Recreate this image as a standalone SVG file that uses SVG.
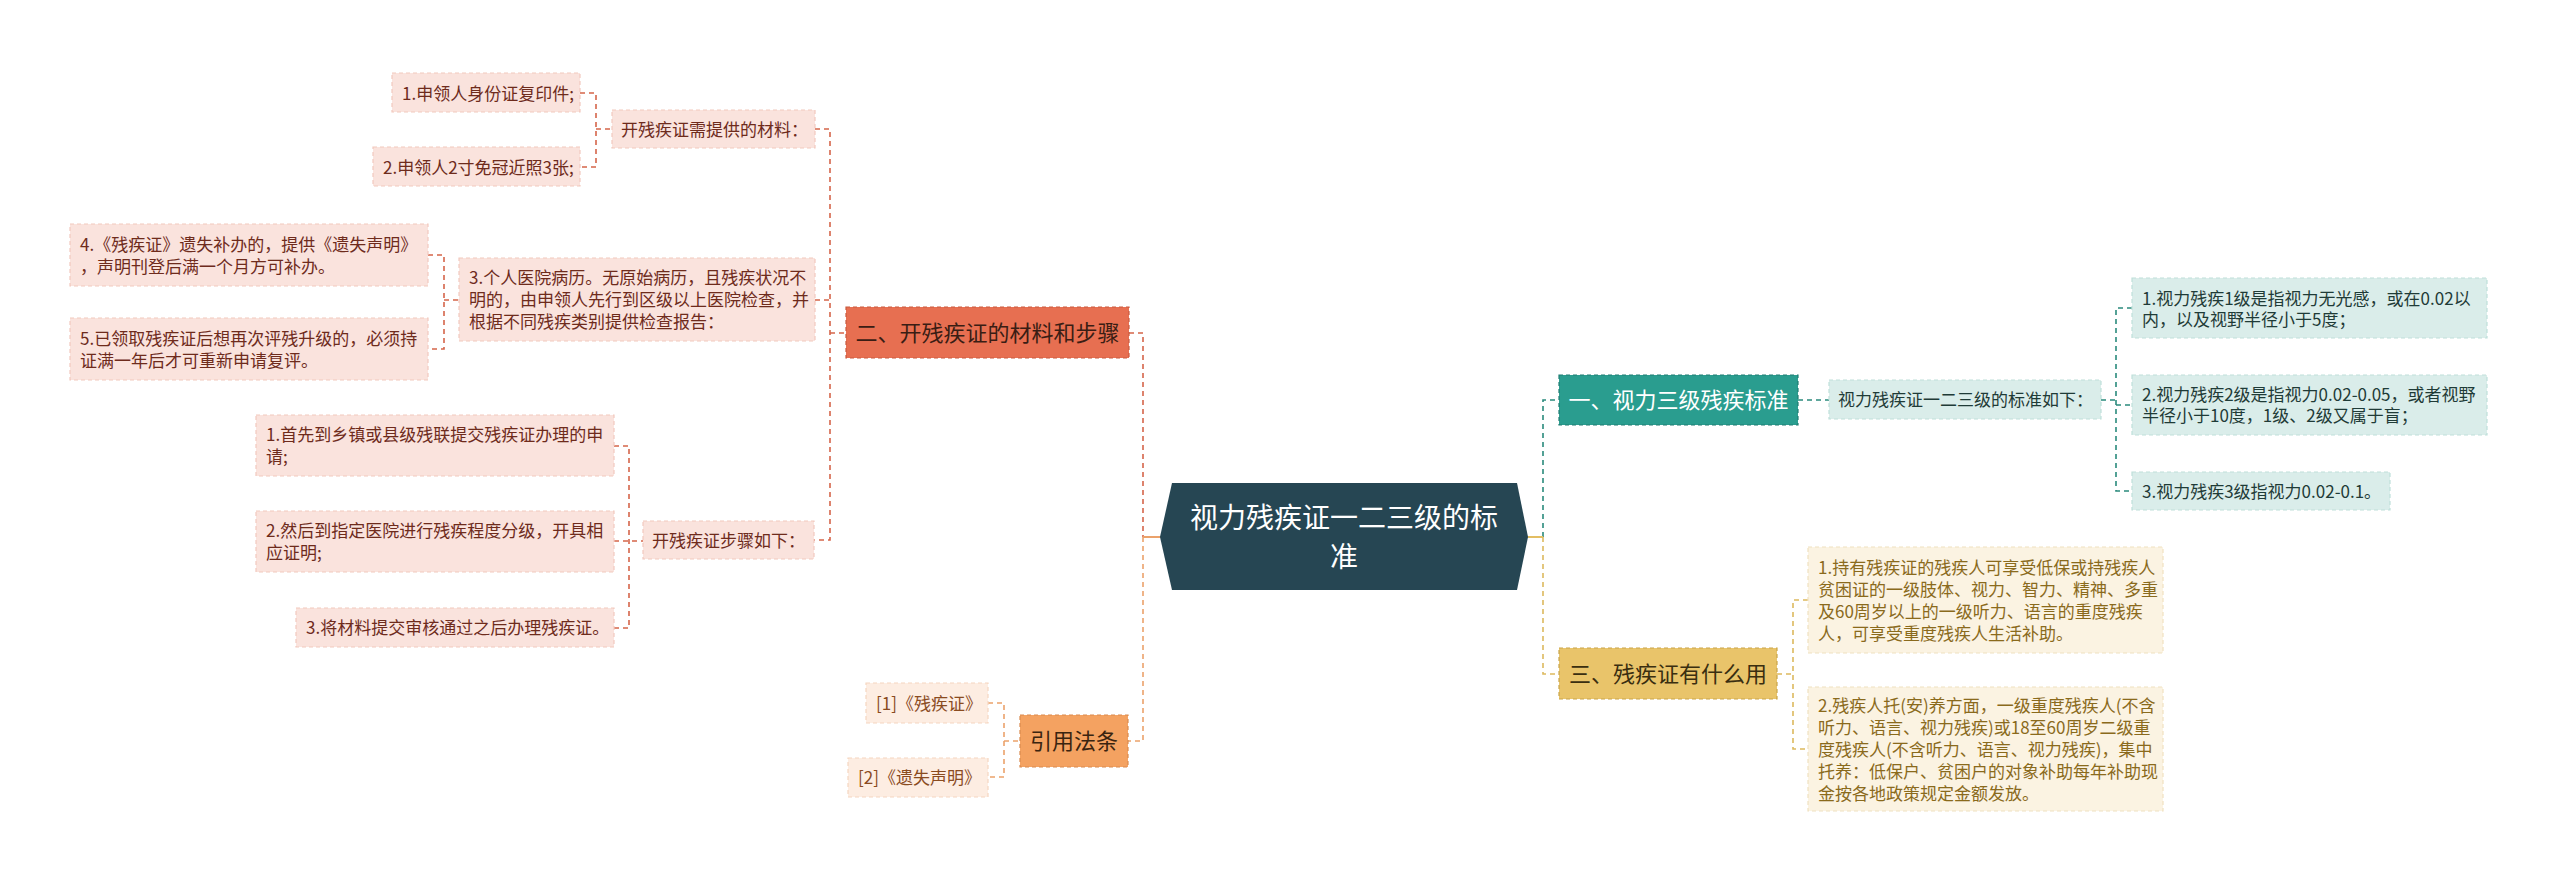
<svg xmlns="http://www.w3.org/2000/svg" width="2560" height="885" viewBox="0 0 2560 885">
<style>
text{font-family:"Noto Sans CJK SC","Noto Sans",sans-serif;}
.t17{font-size:17px;}
.t22{font-size:22px;}
.box{stroke-width:1.2;stroke-dasharray:4 3;}
.rl{fill:#FAE3DD;stroke:#F2C9BE;}
.rlt{fill:#6E2B1C;}
.ol{fill:#FDEDE2;stroke:#F6D6C0;}
.olt{fill:#8A4B1F;}
.tl{fill:#DAEDEA;stroke:#BFDFDA;}
.tlt{fill:#1F3B37;}
.yl{fill:#FBF3E2;stroke:#F0E2C0;}
.ylt{fill:#8A6A1C;}
.c{fill:none;stroke-width:1.6;stroke-dasharray:5 4;}
.cr{stroke:#D5654A;}
.co{stroke:#EBA26B;}
.ct{stroke:#2A8A7C;}
.cy{stroke:#DDB95E;}
</style>
<rect width="2560" height="885" fill="#FFFFFF"/>

<g id="connectors">
  <path class="c cr" d="M580,93 H596 V167 H580 M596,129 H612"/>
  <path class="c cr" d="M815,129 H830 V540 H814 M815,300 H830 M830,333 H846"/>
  <path class="c cr" d="M428,255 H444 V349 H428 M444,300 H459"/>
  <path class="c cr" d="M614,446 H629 V628 H614 M614,541 H643"/>
  <path class="c cr" d="M1129,333 H1143 V537"/>
  <path class="c co" d="M1143,537 V741 H1128"/>
  <path d="M1161,537 H1143" fill="none" stroke="#EBA26B" stroke-width="2"/>
  <path class="c co" d="M988,703 H1004 V777 H988 M1004,741 H1020"/>
  <path class="c ct" d="M1543,537 V400 H1559"/>
  <path class="c ct" d="M1798,400 H1829"/>
  <path class="c ct" d="M2101,400 H2116 M2132,308 H2116 V491 H2132 M2116,405 H2132"/>
  <path d="M1527,537 H1543" fill="none" stroke="#E3BE63" stroke-width="2"/>
  <path class="c cy" d="M1543,537 V674 H1559"/>
  <path class="c cy" d="M1777,674 H1793 M1808,600 H1793 V749 H1808"/>
</g>

<g id="center">
  <polygon points="1160,537 1172,483 1517,483 1528,537 1517,590 1172,590" fill="#264653"/>
  <text x="1344" y="528" font-size="28" fill="#FFFFFF" text-anchor="middle">视力残疾证一二三级的标</text>
  <text x="1344" y="567" font-size="28" fill="#FFFFFF" text-anchor="middle">准</text>
</g>

<g id="n-er">
  <rect x="846" y="307" width="283" height="51" fill="#E76F51" stroke="#C95A3F" class="box"/>
  <text x="987.5" y="341" class="t22" fill="#3A1D14" text-anchor="middle">二、开残疾证的材料和步骤</text>
</g>
<g id="n-cailiao">
  <rect x="612" y="110" width="203" height="38" class="box rl"/>
  <text x="621" y="135.5" class="t17 rlt">开残疾证需提供的材料：</text>
</g>
<g id="n-l1">
  <rect x="392" y="73" width="188" height="39" class="box rl"/>
  <text x="402" y="99.5" class="t17 rlt">1.申领人身份证复印件;</text>
</g>
<g id="n-l2">
  <rect x="373" y="147" width="207" height="39" class="box rl"/>
  <text x="383" y="173.5" class="t17 rlt">2.申领人2寸免冠近照3张;</text>
</g>
<g id="n-l3">
  <rect x="459" y="258" width="356" height="83" class="box rl"/>
  <text x="469" y="284" class="t17 rlt">3.个人医院病历。无原始病历，且残疾状况不</text>
  <text x="469" y="306" class="t17 rlt">明的，由申领人先行到区级以上医院检查，并</text>
  <text x="469" y="328" class="t17 rlt">根据不同残疾类别提供检查报告：</text>
</g>
<g id="n-l4">
  <rect x="70" y="224" width="358" height="62" class="box rl"/>
  <text x="80" y="250.5" class="t17 rlt">4.《残疾证》遗失补办的，提供《遗失声明》</text>
  <text x="80" y="272.5" class="t17 rlt">，声明刊登后满一个月方可补办。</text>
</g>
<g id="n-l5">
  <rect x="70" y="318" width="358" height="62" class="box rl"/>
  <text x="80" y="344.5" class="t17 rlt">5.已领取残疾证后想再次评残升级的，必须持</text>
  <text x="80" y="366.5" class="t17 rlt">证满一年后才可重新申请复评。</text>
</g>
<g id="n-buzhou">
  <rect x="643" y="521" width="171" height="38" class="box rl"/>
  <text x="652" y="546.5" class="t17 rlt">开残疾证步骤如下：</text>
</g>
<g id="n-s1">
  <rect x="256" y="415" width="358" height="61" class="box rl"/>
  <text x="266" y="441" class="t17 rlt">1.首先到乡镇或县级残联提交残疾证办理的申</text>
  <text x="266" y="463" class="t17 rlt">请;</text>
</g>
<g id="n-s2">
  <rect x="256" y="511" width="358" height="61" class="box rl"/>
  <text x="266" y="537" class="t17 rlt">2.然后到指定医院进行残疾程度分级，开具相</text>
  <text x="266" y="559" class="t17 rlt">应证明;</text>
</g>
<g id="n-s3">
  <rect x="296" y="608" width="318" height="39" class="box rl"/>
  <text x="306" y="634" class="t17 rlt">3.将材料提交审核通过之后办理残疾证。</text>
</g>

<g id="n-yinyong">
  <rect x="1020" y="715" width="108" height="52" fill="#F4A261" stroke="#D98A4E" class="box"/>
  <text x="1074" y="749" class="t22" fill="#3A2410" text-anchor="middle">引用法条</text>
</g>
<g id="n-ref1">
  <rect x="866" y="683" width="122" height="40" class="box ol"/>
  <text x="876" y="709.5" class="t17 olt">[1]《残疾证》</text>
</g>
<g id="n-ref2">
  <rect x="848" y="758" width="140" height="39" class="box ol"/>
  <text x="858" y="784" class="t17 olt">[2]《遗失声明》</text>
</g>

<g id="n-yi">
  <rect x="1559" y="375" width="239" height="50" fill="#2A9D8F" stroke="#1F7D72" class="box"/>
  <text x="1678.5" y="408" class="t22" fill="#FFFFFF" text-anchor="middle">一、视力三级残疾标准</text>
</g>
<g id="n-biaozhun">
  <rect x="1829" y="380" width="272" height="39" class="box tl"/>
  <text x="1838" y="406" class="t17 tlt">视力残疾证一二三级的标准如下：</text>
</g>
<g id="n-t1">
  <rect x="2132" y="278" width="355" height="60" class="box tl"/>
  <text x="2142" y="305" class="t17 tlt">1.视力残疾1级是指视力无光感，或在0.02以</text>
  <text x="2142" y="326" class="t17 tlt">内，以及视野半径小于5度；</text>
</g>
<g id="n-t2">
  <rect x="2132" y="375" width="355" height="60" class="box tl"/>
  <text x="2142" y="401" class="t17 tlt">2.视力残疾2级是指视力0.02-0.05，或者视野</text>
  <text x="2142" y="422" class="t17 tlt">半径小于10度，1级、2级又属于盲；</text>
</g>
<g id="n-t3">
  <rect x="2132" y="472" width="258" height="38" class="box tl"/>
  <text x="2142" y="497.5" class="t17 tlt">3.视力残疾3级指视力0.02-0.1。</text>
</g>

<g id="n-san">
  <rect x="1559" y="648" width="218" height="51" fill="#E9C46A" stroke="#C9A448" class="box"/>
  <text x="1668" y="682" class="t22" fill="#3A2E10" text-anchor="middle">三、残疾证有什么用</text>
</g>
<g id="n-y1">
  <rect x="1808" y="547" width="355" height="106" class="box yl"/>
  <text x="1818" y="573.5" class="t17 ylt">1.持有残疾证的残疾人可享受低保或持残疾人</text>
  <text x="1818" y="595.5" class="t17 ylt">贫困证的一级肢体、视力、智力、精神、多重</text>
  <text x="1818" y="617.5" class="t17 ylt">及60周岁以上的一级听力、语言的重度残疾</text>
  <text x="1818" y="639.5" class="t17 ylt">人，可享受重度残疾人生活补助。</text>
</g>
<g id="n-y2">
  <rect x="1808" y="687" width="355" height="124" class="box yl"/>
  <text x="1818" y="711.5" class="t17 ylt">2.残疾人托(安)养方面，一级重度残疾人(不含</text>
  <text x="1818" y="733.5" class="t17 ylt">听力、语言、视力残疾)或18至60周岁二级重</text>
  <text x="1818" y="755.5" class="t17 ylt">度残疾人(不含听力、语言、视力残疾)，集中</text>
  <text x="1818" y="777.5" class="t17 ylt">托养：低保户、贫困户的对象补助每年补助现</text>
  <text x="1818" y="799.5" class="t17 ylt">金按各地政策规定金额发放。</text>
</g>
</svg>
